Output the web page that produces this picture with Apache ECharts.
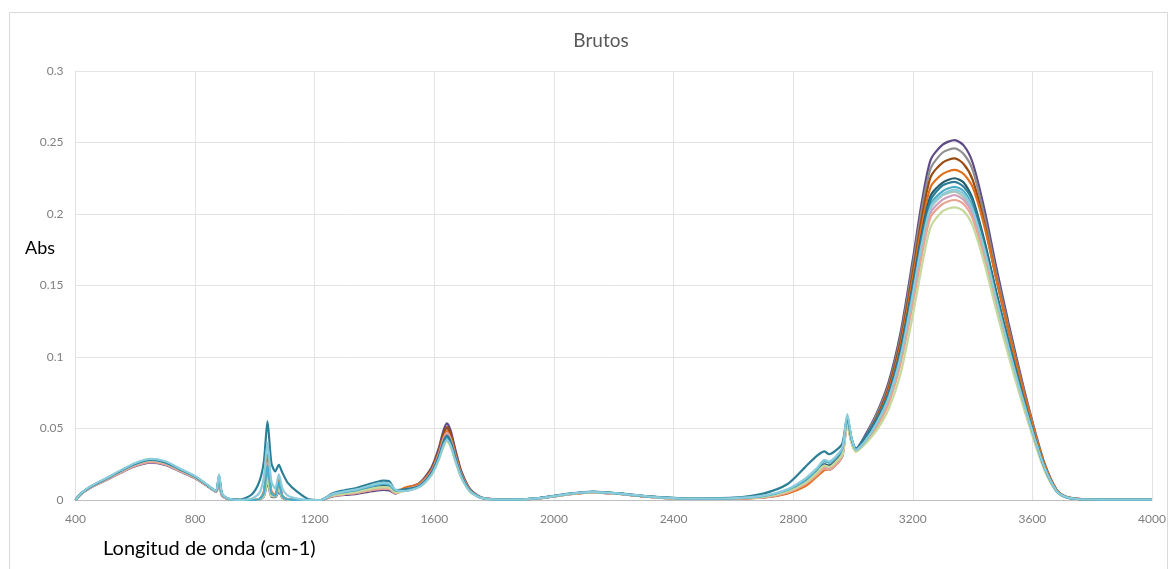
<!DOCTYPE html>
<html>
<head>
<meta charset="utf-8">
<script src="https://cdn.jsdelivr.net/npm/echarts@6/dist/echarts.min.js"></script>
<style>
  html, body { margin: 0; padding: 0; background: #ffffff; }
  #chart { width: 1172px; height: 569px; }
</style>
</head>
<body>
<div id="chart"></div>
<script>
// Wavenumber grid (cm-1) shared by all spectra
const wn = [400, 420, 450, 500, 550, 600, 650, 700, 750, 800, 850, 870,
  880, 890, 910, 950, 990,
  1015, 1030, 1042, 1055, 1068, 1080, 1092, 1110, 1140, 1180,
  1220, 1260, 1300, 1340, 1380, 1410, 1430, 1450, 1470, 1500,
  1550, 1590, 1615, 1630, 1642, 1655, 1670, 1690, 1720, 1760,
  1850, 1950, 2050, 2130, 2220, 2320, 2450, 2600,
  2700, 2780, 2840, 2880, 2905, 2920, 2945, 2965, 2981, 2995, 3010,
  3040, 3080, 3120, 3160, 3200, 3230, 3260, 3300, 3340, 3370, 3400, 3440,
  3480, 3520, 3560, 3600, 3640, 3680, 3710, 3750, 3850, 4000];

// Absorbance of each sample, one value per wavenumber above
const m01 = [0, 0.0045, 0.0086, 0.0136, 0.0189, 0.0236, 0.0262, 0.0246, 0.0199, 0.0152, 0.0084, 0.0058,
  0.010, 0.003, 0.0008, 0, 0,
  0.0004, 0.0024, 0.012, 0.0024, 0.002, 0.006, 0.0015, 0.0003, 0, 0,
  0, 0.0025, 0.0035, 0.0043, 0.0057, 0.0067, 0.007, 0.0067, 0.0045, 0.008,
  0.0118, 0.0225, 0.0364, 0.0482, 0.0536, 0.0482, 0.0354, 0.0204, 0.0075, 0.0016,
  0.0002, 0.0012, 0.0040, 0.0054, 0.0042, 0.0021, 0.0007, 0.0010,
  0.0018, 0.005, 0.011, 0.0176, 0.022, 0.021, 0.025, 0.031, 0.055, 0.041, 0.036,
  0.045, 0.061, 0.083, 0.118, 0.168, 0.208, 0.238, 0.2485, 0.2517, 0.248, 0.236, 0.203,
  0.162, 0.124, 0.088, 0.055, 0.026, 0.0075, 0.0025, 0.0008, 0.0003, 0.0002];

const m02 = [0, 0.0046, 0.0089, 0.0140, 0.0194, 0.0243, 0.0270, 0.0254, 0.0205, 0.0157, 0.0086, 0.0059,
  0.016, 0.004, 0.0008, 0, 0,
  0.0005, 0.004, 0.020, 0.004, 0.003, 0.010, 0.002, 0.0004, 0, 0,
  0, 0.0032, 0.0045, 0.0056, 0.0074, 0.0086, 0.009, 0.0086, 0.0054, 0.0075,
  0.011, 0.021, 0.034, 0.045, 0.050, 0.045, 0.033, 0.019, 0.007, 0.0015,
  0.0002, 0.0013, 0.0042, 0.0057, 0.0045, 0.0023, 0.0008, 0.0012,
  0.0022, 0.0062, 0.0125, 0.020, 0.025, 0.024, 0.028, 0.034, 0.057, 0.043, 0.036,
  0.044, 0.060, 0.081, 0.115, 0.164, 0.203, 0.232, 0.243, 0.2459, 0.242, 0.231, 0.198,
  0.158, 0.121, 0.086, 0.054, 0.025, 0.0073, 0.0024, 0.0008, 0.0003, 0.0002];

const m03 = [0, 0.0046, 0.0088, 0.0139, 0.0193, 0.0241, 0.0268, 0.0252, 0.0204, 0.0155, 0.0086, 0.0059,
  0.013, 0.0035, 0.0008, 0, 0,
  0.0005, 0.0036, 0.018, 0.0036, 0.003, 0.010, 0.002, 0.0004, 0, 0,
  0, 0.0028, 0.004, 0.005, 0.0066, 0.0076, 0.008, 0.0077, 0.0048, 0.0077,
  0.0112, 0.0214, 0.0347, 0.0459, 0.051, 0.0459, 0.0337, 0.0194, 0.0071, 0.0015,
  0.0002, 0.0012, 0.0041, 0.0056, 0.0044, 0.0022, 0.0008, 0.0011,
  0.002, 0.0056, 0.0115, 0.0184, 0.023, 0.022, 0.026, 0.032, 0.056, 0.042, 0.035,
  0.043, 0.058, 0.079, 0.112, 0.159, 0.197, 0.226, 0.236, 0.2389, 0.235, 0.224, 0.193,
  0.154, 0.118, 0.084, 0.052, 0.025, 0.0071, 0.0024, 0.0008, 0.0003, 0.0002];

const m04 = [0, 0.0046, 0.0090, 0.0141, 0.0196, 0.0245, 0.0272, 0.0256, 0.0207, 0.0158, 0.0087, 0.0060,
  0.014, 0.0035, 0.0008, 0, 0,
  0.0006, 0.0064, 0.032, 0.0064, 0.0035, 0.016, 0.003, 0.0005, 0, 0,
  0, 0.0032, 0.0045, 0.0056, 0.0074, 0.0086, 0.009, 0.0086, 0.0054, 0.0085,
  0.0115, 0.0205, 0.0326, 0.0432, 0.048, 0.0432, 0.0317, 0.0182, 0.0067, 0.0014,
  0.0002, 0.0011, 0.0039, 0.0054, 0.0042, 0.0021, 0.0007, 0.0010,
  0.0016, 0.0045, 0.0095, 0.0165, 0.021, 0.0215, 0.025, 0.032, 0.058, 0.042, 0.034,
  0.043, 0.057, 0.077, 0.109, 0.155, 0.192, 0.219, 0.228, 0.2308, 0.228, 0.219, 0.191,
  0.154, 0.118, 0.084, 0.053, 0.025, 0.0072, 0.0024, 0.0008, 0.0003, 0.0002];

const m05 = [0, 0.0047, 0.0091, 0.0143, 0.0198, 0.0248, 0.0275, 0.0259, 0.0209, 0.0160, 0.0088, 0.0061,
  0.015, 0.004, 0.0008, 0, 0,
  0.0006, 0.0044, 0.022, 0.0044, 0.003, 0.011, 0.002, 0.0004, 0, 0,
  0, 0.0035, 0.005, 0.0062, 0.0082, 0.0095, 0.010, 0.0096, 0.006, 0.0069,
  0.0101, 0.0193, 0.0313, 0.0414, 0.046, 0.0414, 0.0304, 0.0175, 0.0064, 0.0014,
  0.0002, 0.0013, 0.0042, 0.0056, 0.0044, 0.0023, 0.0008, 0.0012,
  0.0024, 0.0065, 0.013, 0.020, 0.025, 0.024, 0.028, 0.034, 0.057, 0.043, 0.036,
  0.042, 0.056, 0.075, 0.106, 0.150, 0.186, 0.213, 0.222, 0.2250, 0.222, 0.211, 0.181,
  0.145, 0.111, 0.079, 0.049, 0.023, 0.0067, 0.0022, 0.0007, 0.0003, 0.0002];

const m06 = [0, 0.0048, 0.0093, 0.0147, 0.0203, 0.0254, 0.0282, 0.0265, 0.0214, 0.0164, 0.0090, 0.0062,
  0.017, 0.0045, 0.001, 0.0002, 0.004,
  0.013, 0.027, 0.055, 0.026, 0.020, 0.0245, 0.019, 0.012, 0.006, 0.0005,
  0, 0.0047, 0.0068, 0.0084, 0.011, 0.0128, 0.0135, 0.013, 0.007, 0.0075,
  0.0099, 0.0189, 0.0306, 0.0405, 0.045, 0.0405, 0.0297, 0.0171, 0.0063, 0.0014,
  0.0002, 0.0014, 0.0044, 0.0058, 0.0046, 0.0025, 0.0010, 0.0016,
  0.0045, 0.011, 0.023, 0.031, 0.034, 0.032, 0.035, 0.040, 0.058, 0.043, 0.036,
  0.044, 0.057, 0.075, 0.105, 0.149, 0.184, 0.210, 0.220, 0.2225, 0.219, 0.209, 0.179,
  0.143, 0.110, 0.078, 0.049, 0.023, 0.0066, 0.0022, 0.0007, 0.0003, 0.0002];

const m07 = [0, 0.0048, 0.0092, 0.0146, 0.0202, 0.0252, 0.0280, 0.0263, 0.0213, 0.0162, 0.0090, 0.0062,
  0.016, 0.004, 0.0008, 0, 0,
  0.0006, 0.0048, 0.024, 0.0048, 0.003, 0.012, 0.0025, 0.0005, 0, 0,
  0, 0.0039, 0.0055, 0.0068, 0.009, 0.0105, 0.011, 0.0106, 0.0066, 0.0066,
  0.0097, 0.0185, 0.0299, 0.0396, 0.044, 0.0396, 0.029, 0.0167, 0.0062, 0.0013,
  0.0002, 0.0013, 0.0043, 0.0057, 0.0045, 0.0023, 0.0008, 0.0012,
  0.0026, 0.007, 0.0135, 0.0216, 0.027, 0.026, 0.030, 0.036, 0.058, 0.043, 0.035,
  0.041, 0.054, 0.073, 0.102, 0.146, 0.181, 0.207, 0.216, 0.219, 0.216, 0.205, 0.177,
  0.141, 0.108, 0.077, 0.048, 0.023, 0.0065, 0.0022, 0.0007, 0.0003, 0.0002];

const m08 = [0, 0.0047, 0.0091, 0.0144, 0.0199, 0.0248, 0.0276, 0.0259, 0.0210, 0.0160, 0.0088, 0.0061,
  0.015, 0.004, 0.0008, 0, 0,
  0.0005, 0.0032, 0.016, 0.0032, 0.0025, 0.008, 0.0018, 0.0003, 0, 0,
  0, 0.0032, 0.0045, 0.0056, 0.0074, 0.0086, 0.009, 0.0086, 0.0054, 0.0065,
  0.0095, 0.0181, 0.0292, 0.0387, 0.043, 0.0387, 0.0284, 0.0163, 0.006, 0.0013,
  0.0002, 0.0012, 0.0041, 0.0055, 0.0044, 0.0022, 0.0008, 0.0011,
  0.0021, 0.006, 0.012, 0.0192, 0.024, 0.023, 0.027, 0.033, 0.055, 0.041, 0.035,
  0.041, 0.053, 0.071, 0.100, 0.143, 0.177, 0.204, 0.213, 0.2156, 0.212, 0.202, 0.174,
  0.139, 0.106, 0.075, 0.047, 0.022, 0.0064, 0.0021, 0.0007, 0.0003, 0.0002];

const m09 = [0, 0.0045, 0.0087, 0.0138, 0.0191, 0.0239, 0.0265, 0.0249, 0.0201, 0.0154, 0.0085, 0.0058,
  0.014, 0.0035, 0.0008, 0, 0,
  0.0005, 0.0052, 0.026, 0.0052, 0.003, 0.012, 0.0025, 0.0004, 0, 0,
  0, 0.0028, 0.004, 0.005, 0.0066, 0.0076, 0.008, 0.0077, 0.0048, 0.0072,
  0.0103, 0.0197, 0.032, 0.0423, 0.047, 0.0423, 0.031, 0.0179, 0.0066, 0.0014,
  0.0002, 0.0012, 0.0040, 0.0055, 0.0043, 0.0022, 0.0007, 0.0011,
  0.0019, 0.0053, 0.0115, 0.0184, 0.023, 0.022, 0.026, 0.032, 0.054, 0.041, 0.035,
  0.040, 0.052, 0.069, 0.098, 0.140, 0.174, 0.201, 0.210, 0.2133, 0.210, 0.200, 0.172,
  0.137, 0.105, 0.075, 0.047, 0.022, 0.0064, 0.0021, 0.0007, 0.0003, 0.0002];

const m10 = [0, 0.0046, 0.0088, 0.0139, 0.0193, 0.0241, 0.0268, 0.0252, 0.0204, 0.0155, 0.0086, 0.0059,
  0.012, 0.0032, 0.0008, 0, 0,
  0.0005, 0.0044, 0.022, 0.0044, 0.003, 0.011, 0.002, 0.0004, 0, 0,
  0, 0.0028, 0.004, 0.005, 0.0066, 0.0076, 0.008, 0.0077, 0.0048, 0.0071,
  0.0101, 0.0193, 0.0313, 0.0414, 0.046, 0.0414, 0.0304, 0.0175, 0.0064, 0.0014,
  0.0002, 0.0012, 0.0040, 0.0054, 0.0043, 0.0022, 0.0007, 0.0011,
  0.0018, 0.0052, 0.011, 0.0176, 0.022, 0.021, 0.025, 0.031, 0.053, 0.040, 0.034,
  0.040, 0.051, 0.068, 0.096, 0.137, 0.171, 0.198, 0.207, 0.2098, 0.207, 0.197, 0.169,
  0.135, 0.103, 0.073, 0.046, 0.022, 0.0063, 0.0021, 0.0007, 0.0003, 0.0002];

const m11 = [0, 0.0047, 0.0092, 0.0145, 0.0200, 0.0250, 0.0278, 0.0261, 0.0211, 0.0161, 0.0089, 0.0061,
  0.015, 0.004, 0.0008, 0, 0,
  0.0005, 0.0028, 0.014, 0.0028, 0.0025, 0.008, 0.0018, 0.0003, 0, 0,
  0, 0.0032, 0.0045, 0.0056, 0.0074, 0.0086, 0.009, 0.0086, 0.0054, 0.0062,
  0.009, 0.0172, 0.0279, 0.0369, 0.041, 0.0369, 0.0271, 0.0156, 0.0057, 0.0012,
  0.0002, 0.0012, 0.0041, 0.0055, 0.0044, 0.0022, 0.0008, 0.0011,
  0.0021, 0.006, 0.012, 0.0192, 0.024, 0.023, 0.027, 0.032, 0.052, 0.040, 0.034,
  0.039, 0.049, 0.064, 0.089, 0.129, 0.163, 0.191, 0.202, 0.2047, 0.202, 0.192, 0.165,
  0.132, 0.101, 0.072, 0.045, 0.021, 0.0061, 0.0020, 0.0007, 0.0003, 0.0002];

const m12 = [0, 0.0049, 0.0095, 0.0150, 0.0207, 0.0259, 0.0288, 0.0271, 0.0219, 0.0167, 0.0092, 0.0063,
  0.018, 0.0045, 0.001, 0, 0.001,
  0.005, 0.016, 0.040, 0.013, 0.008, 0.018, 0.008, 0.003, 0.001, 0,
  0, 0.0042, 0.006, 0.0074, 0.0098, 0.0114, 0.012, 0.0115, 0.0072, 0.0063,
  0.0092, 0.0176, 0.0286, 0.0378, 0.042, 0.0378, 0.0277, 0.016, 0.0059, 0.0013,
  0.0002, 0.0013, 0.0043, 0.0057, 0.0045, 0.0024, 0.0009, 0.0013,
  0.003, 0.0075, 0.015, 0.0224, 0.028, 0.027, 0.031, 0.037, 0.060, 0.044, 0.035,
  0.041, 0.054, 0.072, 0.101, 0.144, 0.179, 0.205, 0.214, 0.217, 0.214, 0.203, 0.175,
  0.140, 0.107, 0.076, 0.048, 0.023, 0.0066, 0.0022, 0.0007, 0.0003, 0.0002];

// Drawing order: later samples sit on top
const samples = [m01, m02, m03, m04, m05, m08, m09, m10, m11, m07, m06, m12];
const sampleNames = ['M1', 'M2', 'M3', 'M4', 'M5', 'M8', 'M9', 'M10', 'M11', 'M7', 'M6', 'M12'];
const sampleColors = ['#5E4A86', '#8E8E8E', '#9A4B12', '#E0701C', '#235B6B', '#A9C5BA',
  '#CFA0BE', '#E9A391', '#C6D89C', '#4BACC6', '#2C7E96', '#8ACCDC'];

const xTicks = { min: 400, max: 4000, step: 400 };
const yTicks = { min: 0, max: 0.3, step: 0.05 };

const chart = echarts.init(document.getElementById('chart'), null, { renderer: 'canvas' });

const series = samples.map((vals, i) => ({
  name: sampleNames[i],
  type: 'line',
  data: wn.map((w, j) => [w, vals[j]]),
  showSymbol: false,
  smooth: 0.25,
  lineStyle: { width: 2.2, color: sampleColors[i] },
  itemStyle: { color: sampleColors[i] },
  emphasis: { disabled: true },
  z: 2 + i
}));

const labelFont = 'Lato, "Open Sans", sans-serif';

chart.setOption({
  animation: false,
  backgroundColor: '#ffffff',
  title: {
    text: 'Brutos',
    left: 596,
    top: 26,
    textAlign: 'center',
    textStyle: { fontFamily: labelFont, fontSize: 19, fontWeight: 'normal', color: '#595959' }
  },
  grid: { left: 75.5, right: 20, top: 71, bottom: 69, containLabel: false },
  xAxis: {
    type: 'value',
    min: xTicks.min, max: xTicks.max, interval: xTicks.step,
    axisLine: { show: true, lineStyle: { color: '#BFBFBF', width: 1 } },
    axisTick: { show: false },
    axisLabel: { color: '#7F7F7F', fontSize: 12, margin: 13, fontFamily: labelFont,
      formatter: v => String(v) },
    splitLine: { show: true, lineStyle: { color: '#E3E3E3', width: 1 } }
  },
  yAxis: {
    type: 'value',
    min: yTicks.min, max: yTicks.max, interval: yTicks.step,
    axisLine: { show: true, lineStyle: { color: '#E3E3E3', width: 1 } },
    axisTick: { show: false },
    axisLabel: { color: '#7F7F7F', fontSize: 12, margin: 12, fontFamily: labelFont,
      formatter: v => String(+v.toFixed(2)) },
    splitLine: { show: true, lineStyle: { color: '#E3E3E3', width: 1 } }
  },
  graphic: [
    {
      type: 'rect', left: 7, top: 10, z: -1,
      shape: { width: 1158, height: 580 },
      style: { fill: 'none', stroke: '#D9D9D9', lineWidth: 1 }
    },
    {
      type: 'text', left: 25, top: 239,
      style: { text: 'Abs', font: '18px ' + labelFont, fill: '#000000' }
    },
    {
      type: 'text', left: 103, top: 539,
      style: { text: 'Longitud de onda (cm-1)', font: '20px ' + labelFont, fill: '#000000' }
    }
  ],
  series: series
});
</script>
</body>
</html>
